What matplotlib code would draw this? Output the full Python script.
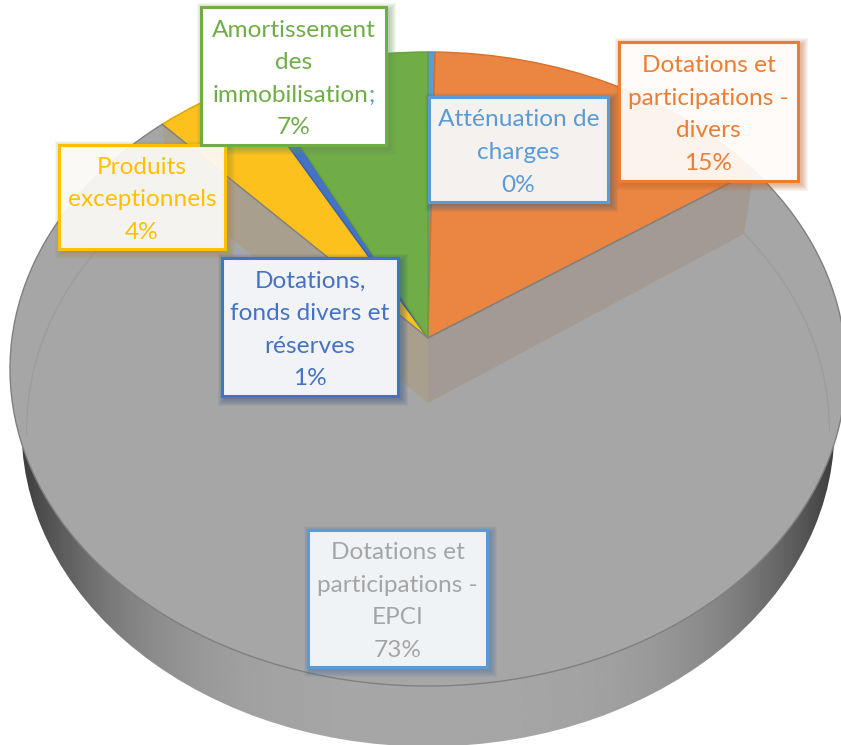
import numpy as np
import matplotlib
matplotlib.use("Agg")
import matplotlib.pyplot as plt
from matplotlib.transforms import Transform
from matplotlib.patches import Rectangle, PathPatch, Wedge, Polygon
from matplotlib.path import Path

# ---------- data ----------
categories = ["Atténuation de\ncharges",
              "Dotations et\nparticipations -\ndivers",
              "Dotations et\nparticipations -\nEPCI",
              "Produits\nexceptionnels",
              "Dotations,\nfonds divers et\nréserves",
              "Amortissement\ndes\nimmobilisation"]
values = [0.3, 15.2, 72.5, 4.0, 0.6, 7.4]
percent_labels = ["0%", "15%", "73%", "4%", "1%", "7%"]
colors = ["#5b9bd5", "#ea8642", "#a6a6a6", "#fcc11c", "#4472c4", "#70ad47"]
text_colors = ["#5b9bd5", "#ed7d31", "#a5a5a5", "#ffc000", "#4472c4", "#70ad47"]
edge_colors = ["#4f8cc4", "#d8702a", "#808080", "#d9a406", "#3a62a8", "#66a03f"]

# label boxes, in pixels: x0, x1, y0, y1
boxes = [(429, 608, 97, 202), (619, 798, 42, 181), (308, 487, 530, 667),
         (59, 225, 145, 249), (222, 398, 258, 396), (201, 386, 7, 145)]
box_borders = ["#5b9bd5", "#ed7d31", "#5b9bd5", "#ffc000", "#4472c4", "#70ad47"]
shadow_colors = ["#44566a", "#b8622a", "#3f6f9f", "#a08a40", "#33507f", "#6c8f58"]
box_fills = [("#f5f1ee", 1.0), ("#fffbf9", 0.94), ("#f0f3f6", 1.0),
             ("#faf9f5", 0.94), ("#f1f3f6", 1.0), ("#ffffff", 1.0)]
LINE_H = 32.5


class Perspective(Transform):
    """Maps the unit-circle pie plane to image pixels with a tilted view."""
    input_dims = 2
    output_dims = 2
    is_affine = False

    def __init__(self, cx, cy, bx, ay, k):
        super().__init__()
        self.p = (cx, cy, bx, ay, k)

    def transform_non_affine(self, xy):
        xy = np.asarray(xy, float)
        cx, cy, bx, ay, k = self.p
        d = 1 + k * xy[:, 1]
        return np.column_stack([cx + bx * xy[:, 0] / d, cy - ay * xy[:, 1] / d])

    def inverted(self):
        raise NotImplementedError


W, H = 841, 745
fig = plt.figure(figsize=(W / 100, H / 100), dpi=100)
ax = fig.add_axes([0, 0, 1, 1])

wedges, _ = ax.pie(values, colors=colors, startangle=90, counterclock=False, radius=1,
                   wedgeprops=dict(linewidth=1.0))
ax.set_aspect("auto")
ax.set_xlim(0, W)
ax.set_ylim(H, 0)
ax.axis("off")

top = Perspective(428, 338, 416, 314, 0.0978)
floor = Perspective(428, 403, 400, 315, 0.083)
sil = Perspective(428, 403, 405, 315, 0.083)

# 3-D side of the pie: a horizontal gradient clipped to the lower disc
xx = np.linspace(0, W, 420)
t = np.clip(np.abs(xx - 428) / 420, 0, 1)
shade = (166 - 118 * t ** 3.5) / 255
grad = np.repeat(shade[None, :], 2, axis=0)
side_disc = Wedge((0, 0), 1, 0, 360, fc="none", ec="none")
side_disc.set_transform(sil + ax.transData)
ax.add_artist(side_disc)
im = ax.imshow(grad, extent=(0, W, H, 0), cmap="gray", vmin=0, vmax=1, aspect="auto", zorder=1)
im.set_clip_path(side_disc)
ax.set_xlim(0, W)
ax.set_ylim(H, 0)


def unit(frac):
    a = np.deg2rad(90 - 360 * frac)
    return np.array([np.cos(a), np.sin(a)])


# top surface
for w, ec in zip(wedges, edge_colors):
    w.set_transform(top + ax.transData)
    w.set_edgecolor(ec)
    w.set_zorder(2)

# walls of the grey slice, seen through its translucent top
cum = np.cumsum(values) / np.sum(values)
origin = np.zeros((1, 2))
for frac, col in ((cum[1], "#a39a93"), (cum[2], "#a89f8e")):
    rim = unit(frac)[None, :]
    p_top = top.transform(np.vstack([origin, rim]))
    p_floor = floor.transform(np.vstack([rim, origin]))
    ax.add_patch(Polygon(np.vstack([p_top, p_floor]), closed=True, fc=col, ec="none", zorder=3))

# redraw the slice borders above the walls
for i in (1, 2):
    rim = unit(cum[i])[None, :]
    p = top.transform(np.vstack([origin, rim]))
    ax.plot(p[:, 0], p[:, 1], color="#808080", lw=1.0, zorder=3.2)

# faint floor circle seen through the top surface
ang = np.deg2rad(90 - np.linspace(360 * cum[1], 360 * cum[2], 300))
ring = floor.transform(np.column_stack([np.cos(ang), np.sin(ang)]))
ring[ring[:, 1] > 435] = np.nan
ax.plot(ring[:, 0], ring[:, 1], color="#9c9c9c", lw=0.9, zorder=3.1)

# ---------- labels ----------
plt.rcParams["font.family"] = ["Lato", "DejaVu Sans"]
FS = 17.6
renderer = fig.canvas.get_renderer()


def rect_path(x0, x1, y0, y1, reverse=False):
    v = [(x0, y0), (x1, y0), (x1, y1), (x0, y1), (x0, y0)]
    if reverse:
        v = v[::-1]
    return Path(v, [Path.MOVETO, Path.LINETO, Path.LINETO, Path.LINETO, Path.CLOSEPOLY])


for name, pct, (x0, x1, y0, y1), border, shc, (fill, alpha), tc in zip(
        categories, percent_labels, boxes, box_borders, shadow_colors, box_fills, text_colors):
    # soft coloured shadow
    for g in range(1, 8):
        outer = rect_path(x0 + 3 - g, x1 + 3 + g, y0 + 3 - g, y1 + 3 + g)
        inner = rect_path(x0, x1, y0, y1, reverse=True)
        ax.add_patch(PathPatch(Path.make_compound_path(outer, inner), fc=shc, ec="none",
                               alpha=0.075, zorder=4))
    ax.add_patch(Rectangle((x0, y0), x1 - x0, y1 - y0, fc=fill, ec="none", alpha=alpha, zorder=5))
    ax.add_patch(Rectangle((x0, y0), x1 - x0, y1 - y0, fc="none", ec=border, lw=2.2, zorder=6))
    lines = name.split("\n") + [pct]
    xc = (x0 + x1) / 2
    yc = (y0 + y1) / 2 + 1
    for i, line in enumerate(lines):
        y = yc + (i - (len(lines) - 1) / 2) * LINE_H
        if line == "immobilisation":
            probe = ax.text(xc, y, line + ";", fontsize=FS, ha="center", va="center_baseline")
            bb = probe.get_window_extent(renderer).transformed(ax.transData.inverted())
            probe.remove()
            ax.text(min(bb.x0, bb.x1), y, line, color=tc, fontsize=FS, ha="left", va="center_baseline", zorder=7)
            ax.text(max(bb.x0, bb.x1), y, ";", color="#5b9bd5", fontsize=FS, ha="right", va="center_baseline", zorder=7)
        else:
            ax.text(xc, y, line, color=tc, fontsize=FS, ha="center", va="center_baseline", zorder=7)

fig.savefig("out.png", dpi=100, facecolor="white")
